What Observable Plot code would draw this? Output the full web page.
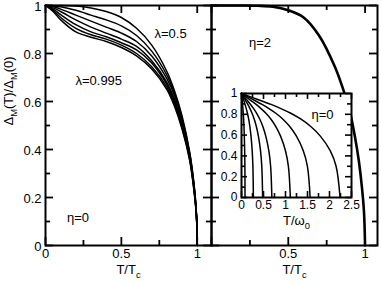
<!DOCTYPE html>
<html><head><meta charset="utf-8">
<script src="https://cdn.jsdelivr.net/npm/d3@7"></script>
<script src="https://cdn.jsdelivr.net/npm/@observablehq/plot@0.6"></script>
<style>
html,body{margin:0;padding:0;background:white;}
#wrap{position:relative;width:382px;height:282px;overflow:hidden;background:white;}
#wrap svg{position:absolute;left:0;top:0;}
</style></head><body><div id="wrap"></div>
<script>
// ---------- data ----------
// left panel: eta=0, lambda from 0.5 (outer) to 0.995 (inner), Delta vs T/Tc
const leftT = [0,0.05,0.1,0.2,0.3,0.4,0.5,0.6,0.7,0.8,0.85,0.9,0.95,0.98,0.995,1];
const lam1 = [1,1,1,0.998,0.99,0.975,0.95,0.905,0.835,0.725,0.645,0.54,0.39,0.25,0.13,0];
const lam2 = [1,0.999,0.995,0.98,0.96,0.94,0.915,0.875,0.81,0.71,0.635,0.53,0.385,0.245,0.128,0];
const lam3 = [1,0.996,0.985,0.96,0.935,0.91,0.885,0.85,0.79,0.695,0.625,0.52,0.38,0.24,0.126,0];
const lam4 = [1,0.99,0.975,0.94,0.91,0.885,0.86,0.83,0.77,0.68,0.61,0.51,0.37,0.235,0.124,0];
const lam5 = [1,0.985,0.962,0.92,0.89,0.87,0.845,0.815,0.76,0.67,0.6,0.5,0.365,0.23,0.122,0];
const lam6 = [1,0.98,0.95,0.905,0.878,0.86,0.835,0.8,0.745,0.66,0.59,0.49,0.36,0.225,0.12,0];
const lam7 = [1,0.975,0.94,0.89,0.868,0.85,0.825,0.79,0.735,0.65,0.58,0.485,0.355,0.22,0.118,0];
const lambdaCurves = [lam1,lam2,lam3,lam4,lam5,lam6,lam7];

// right panel: eta=2
const rightT = [0,0.1,0.2,0.3,0.4,0.5,0.6,0.7,0.8,0.85,0.9,0.935,0.96,0.98,0.993,1];
const eta2 = [1,1,1,0.999,0.995,0.98,0.95,0.875,0.75,0.665,0.56,0.45,0.35,0.24,0.14,0];

// inset: eta=0, Delta vs T/omega0 ; x values at shared Delta levels
const insetLevels = [1,0.965,0.93,0.895,0.855,0.81,0.755,0.685,0.59,0.45,0.3,0];
const inA = [0,0.008,0.016,0.024,0.032,0.04,0.048,0.056,0.064,0.072,0.077,0.08];
const inB = [0,0.027,0.054,0.081,0.108,0.135,0.162,0.189,0.216,0.243,0.259,0.27];
const inC = [0,0.048,0.096,0.144,0.192,0.24,0.288,0.336,0.384,0.432,0.461,0.48];
const inD = [0,0.069,0.138,0.207,0.276,0.345,0.414,0.483,0.552,0.621,0.662,0.69];
const inE = [0,0.111,0.222,0.333,0.444,0.555,0.666,0.777,0.888,0.999,1.066,1.11];
const inF = [0,0.156,0.312,0.468,0.624,0.78,0.936,1.092,1.248,1.404,1.498,1.56];
const inG = [0,0.224,0.448,0.672,0.896,1.12,1.344,1.568,1.792,2.016,2.15,2.24];
const insetCurves = [inA,inB,inC,inD,inE,inF,inG];

// ticks
const mainXMajor = [0,0.5,1], mainXMinor = [0.25,0.75];
const yMajor = [0,0.2,0.4,0.6,0.8,1], yMinor = [0.1,0.3,0.5,0.7,0.9];
const insetXMajor = [0,0.5,1,1.5,2,2.5], insetXMinor = [0.25,0.75,1.25,1.75,2.25];
const leftXLabels = [0,0.5,1], rightXLabels = [0.5,1];

// ---------- helpers ----------
const W = 382, H = 282;
const FONT = "'Liberation Sans', Arial, Helvetica, sans-serif";
function ticksAll(xMaj, xMin, yMaj, yMin, fw, fh, maj, mn, sw) {
  const o = {stroke: "black", strokeWidth: sw};
  return [
    Plot.tickX(xMaj, {x: d => d, insetTop: fh - maj, ...o}),
    Plot.tickX(xMin, {x: d => d, insetTop: fh - mn, ...o}),
    Plot.tickX(xMaj, {x: d => d, insetBottom: fh - maj, ...o}),
    Plot.tickX(xMin, {x: d => d, insetBottom: fh - mn, ...o}),
    Plot.tickY(yMaj, {y: d => d, insetRight: fw - maj, ...o}),
    Plot.tickY(yMin, {y: d => d, insetRight: fw - mn, ...o}),
    Plot.tickY(yMaj, {y: d => d, insetLeft: fw - maj, ...o}),
    Plot.tickY(yMin, {y: d => d, insetLeft: fw - mn, ...o})
  ];
}
function subscripts(svg, fs) {
  svg.querySelectorAll("text").forEach(t => {
    const s = t.textContent;
    if (!s.includes("_")) return;
    const parts = s.split(/(_[^_])/).filter(p => p !== "");
    t.textContent = "";
    let shifted = false;
    for (const p of parts) {
      const ts = document.createElementNS("http://www.w3.org/2000/svg", "tspan");
      if (p.startsWith("_")) {
        ts.textContent = p.slice(1);
        ts.setAttribute("font-size", fs * 0.72);
        ts.setAttribute("dy", fs * 0.32);
        shifted = true;
      } else {
        ts.textContent = p;
        if (shifted) { ts.setAttribute("dy", -fs * 0.32); shifted = false; }
      }
      t.appendChild(ts);
    }
  });
}
const baseStyle = fs => ({background: "transparent", fontFamily: FONT, fontSize: fs + "px", color: "black", overflow: "visible"});

const leftRows = lambdaCurves.flatMap((ys, k) => leftT.map((t, j) => ({t, v: ys[j], k})));
const rightRows = rightT.map((t, j) => ({t, v: eta2[j]}));
const insetRows = insetCurves.flatMap((xs, k) => xs.map((x, j) => ({x, v: insetLevels[j], k})));

// ---------- left panel ----------
const left = Plot.plot({
  width: W, height: H, marginLeft: 45, marginRight: 171, marginTop: 5, marginBottom: 37,
  x: {domain: [0, 1.094]}, y: {domain: [0, 1]},
  style: baseStyle(13),
  marks: [
    Plot.line(leftRows, {x: "t", y: "v", z: "k", curve: "catmull-rom", stroke: "black", strokeWidth: 1.5}),
    ...ticksAll(mainXMajor, mainXMinor, yMajor, yMinor, 166, 240, 8, 5, 1.8),
    Plot.frame({stroke: "black", strokeWidth: 2}),
    Plot.axisX({ticks: leftXLabels, tickSize: 0, tickPadding: 3, tickFormat: d => String(d), label: null}),
    Plot.axisY({ticks: yMajor, tickSize: 0, tickPadding: 4, dy: 1.5, tickFormat: d => String(d), label: null}),
    Plot.text(["λ=0.5"], {x: 0.824, y: 0.883, fill: "black"}),
    Plot.text(["λ=0.995"], {x: 0.351, y: 0.6875, fill: "black"}),
    Plot.text(["η=0"], {x: 0.214, y: 0.114, fill: "black"}),
    Plot.text(["T/T_c"], {frameAnchor: "bottom", dy: 28, fill: "black"}),
    Plot.text(["Δ_M(T)/Δ_M(0)"], {frameAnchor: "left", dx: -37, rotate: -90, fill: "black"})
  ]
});

// ---------- right panel ----------
const right = Plot.plot({
  width: W, height: H, marginLeft: 211, marginRight: 5, marginTop: 5, marginBottom: 37,
  x: {domain: [0, 1.081]}, y: {domain: [0, 1], axis: null},
  style: baseStyle(13),
  marks: [
    Plot.line(rightRows, {x: "t", y: "v", curve: "catmull-rom", stroke: "black", strokeWidth: 2.6}),
    ...ticksAll(mainXMajor, mainXMinor, yMajor, yMinor, 166, 240, 8, 5, 1.8),
    Plot.frame({stroke: "black", strokeWidth: 2}),
    Plot.axisX({ticks: rightXLabels, tickSize: 0, tickPadding: 3, tickFormat: d => String(d), label: null}),
    Plot.text(["η=2"], {x: 0.316, y: 0.845, fill: "black"}),
    Plot.text(["T/T_c"], {frameAnchor: "bottom", dy: 28, fill: "black"})
  ]
});

// ---------- inset ----------
const inset = Plot.plot({
  width: W, height: H, marginLeft: 241, marginRight: 31, marginTop: 93, marginBottom: 85,
  x: {domain: [0, 2.5]}, y: {domain: [0, 1]},
  style: baseStyle(12),
  marks: [
    Plot.frame({fill: "white"}),
    Plot.line(insetRows, {x: "x", y: "v", z: "k", curve: "catmull-rom", stroke: "black", strokeWidth: 1.5}),
    ...ticksAll(insetXMajor, insetXMinor, yMajor, yMinor, 110, 104, 6, 4, 1.6),
    Plot.frame({stroke: "black", strokeWidth: 2}),
    Plot.axisX({ticks: insetXMajor, tickSize: 0, tickPadding: 3, tickFormat: d => String(d), label: null}),
    Plot.axisY({ticks: yMajor, tickSize: 0, tickPadding: 4, tickFormat: d => String(d), label: null}),
    Plot.text(["η=0"], {x: 1.84, y: 0.795, fill: "black", fontSize: 13}),
    Plot.text(["T/ω_0"], {frameAnchor: "bottom", dy: 27, fill: "black", fontSize: 13})
  ]
});

subscripts(left, 13); subscripts(right, 13); subscripts(inset, 13);
const wrap = document.getElementById("wrap");
wrap.append(left, right, inset);
</script></body></html>
